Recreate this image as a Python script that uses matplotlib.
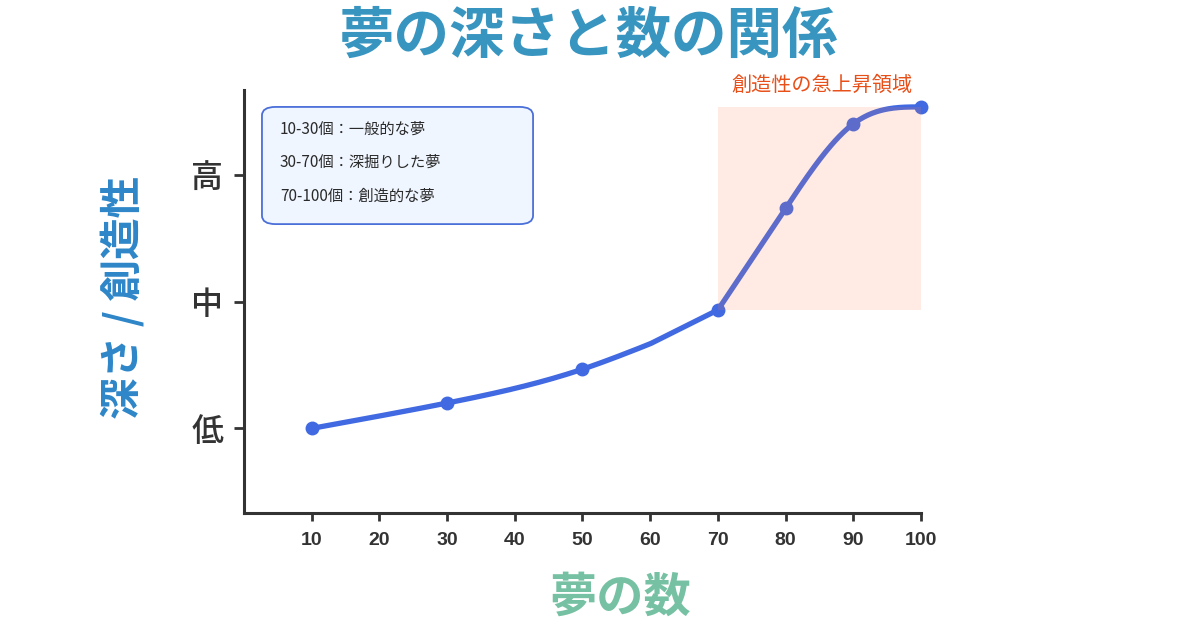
import numpy as np
import matplotlib
matplotlib.use("Agg")
import matplotlib.pyplot as plt
from matplotlib.patches import Rectangle, FancyBboxPatch

plt.rcParams['font.family'] = ['Noto Sans CJK JP', 'DejaVu Sans']

# data (depth on a 0-100 scale, 低=20 中=50 高=80)
dream_counts = [10, 30, 50, 70, 80, 90, 100]
depth = [20, 26, 34, 48, 72, 92, 96]

# the drawn line is three smoothed pieces: kink at 60, corner at 70
piece_a_x = [10, 30, 50, 60]
piece_a_y = [20, 26, 34, 40]
piece_b_x = [60, 70]
piece_b_y = [40, 48]
piece_c_x = [70, 80, 90, 100]
piece_c_y = [48, 72, 92, 96]

level_ticks = [20, 50, 80]
level_labels = ['低', '中', '高']
x_ticks = [10, 20, 30, 40, 50, 60, 70, 80, 90, 100]

legend_lines = ['10-30個：一般的な夢', '30-70個：深掘りした夢', '70-100個：創造的な夢']
surge_from, surge_to = 70, 100


def natural_spline(xs, ys, n=150):
    """natural cubic spline through the points, for drawing only"""
    xs = np.asarray(xs, float)
    ys = np.asarray(ys, float)
    k = len(xs)
    if k < 3:
        t = np.linspace(xs[0], xs[-1], n)
        return t, np.interp(t, xs, ys)
    h = np.diff(xs)
    A = np.zeros((k, k))
    b = np.zeros(k)
    A[0, 0] = A[-1, -1] = 1
    for i in range(1, k - 1):
        A[i, i - 1] = h[i - 1]
        A[i, i] = 2 * (h[i - 1] + h[i])
        A[i, i + 1] = h[i]
        b[i] = 6 * ((ys[i + 1] - ys[i]) / h[i] - (ys[i] - ys[i - 1]) / h[i - 1])
    M = np.linalg.solve(A, b)
    t = np.linspace(xs[0], xs[-1], n)
    j = np.clip(np.searchsorted(xs, t) - 1, 0, k - 2)
    x0, x1 = xs[j], xs[j + 1]
    hh = x1 - x0
    a = (x1 - t) / hh
    c = (t - x0) / hh
    out = (a * ys[j] + c * ys[j + 1]
           + ((a ** 3 - a) * M[j] + (c ** 3 - c) * M[j + 1]) * hh ** 2 / 6)
    return t, out


fig = plt.figure(figsize=(12, 6.29), dpi=100)
ax = fig.add_axes([0.2033, 0.1844, 0.5642, 0.6725])

line_col = '#4169E1'
xs_all, ys_all = [], []
for px, py in [(piece_a_x, piece_a_y), (piece_b_x, piece_b_y), (piece_c_x, piece_c_y)]:
    sx, sy = natural_spline(px, py)
    xs_all.extend(sx)
    ys_all.extend(sy)
ax.plot(xs_all, ys_all, color=line_col, lw=3.8, solid_capstyle='round',
        solid_joinstyle='round', zorder=2)
ax.plot(dream_counts, depth, 'o', color=line_col, ms=9, zorder=2, clip_on=False)

# highlighted area from the 70 point to the 100 point
y_lo = depth[dream_counts.index(surge_from)]
y_hi = depth[dream_counts.index(surge_to)]
ax.add_patch(Rectangle((surge_from, y_lo), surge_to - surge_from, y_hi - y_lo,
                       facecolor='coral', alpha=0.15, edgecolor='none', zorder=3))
ax.text((surge_from + surge_to) / 2 + 0.3, 101.0, '創造性の急上昇領域', color='#E8501A',
        fontsize=14.5, style='italic', ha='center', va='center', clip_on=False)

# legend-like note box
ax.add_patch(FancyBboxPatch((0.0266, 0.683), 0.4004, 0.277, transform=ax.transAxes,
                            boxstyle='round,pad=0,rounding_size=0.02',
                            facecolor='#F0F6FF', edgecolor='#4A6FD8', lw=1.3, zorder=4))
for i, s in enumerate(legend_lines):
    ax.text(0.053, 0.908 - i * 0.0795, s, transform=ax.transAxes, fontsize=11,
            color='#2a2a2a', va='center', ha='left', zorder=5)

ax.set_xlim(0, 100)
ax.set_ylim(0, 100)
ax.set_xticks(x_ticks)
ax.set_xticklabels([str(v) for v in x_ticks], fontfamily='Liberation Sans',
                   fontweight='bold', fontsize=14, color='#333333')
ax.set_yticks(level_ticks)
ax.set_yticklabels(level_labels, fontsize=23, color='#333333', fontweight='medium')
ax.tick_params(axis='x', length=6, width=2, color='#333333', pad=8)
ax.tick_params(axis='y', length=7, width=2, color='#333333', pad=8)
for side in ['top', 'right']:
    ax.spines[side].set_visible(False)
for side in ['left', 'bottom']:
    ax.spines[side].set_color('#333333')
    ax.spines[side].set_linewidth(2.2)

fig.text(0.49, 0.941, '夢の深さと数の関係', fontsize=40, fontweight='bold',
         color='#3795C0', ha='center', va='center')
fig.text(0.102, 0.527, '深さ / 創造性', fontsize=30, fontweight='bold',
         color='#2E86C8', ha='center', va='center', rotation=90)
fig.text(0.517, 0.049, '夢の数', fontsize=34, fontweight='bold',
         color='#76C1A3', ha='center', va='center')

fig.savefig('out.png', dpi=100)
